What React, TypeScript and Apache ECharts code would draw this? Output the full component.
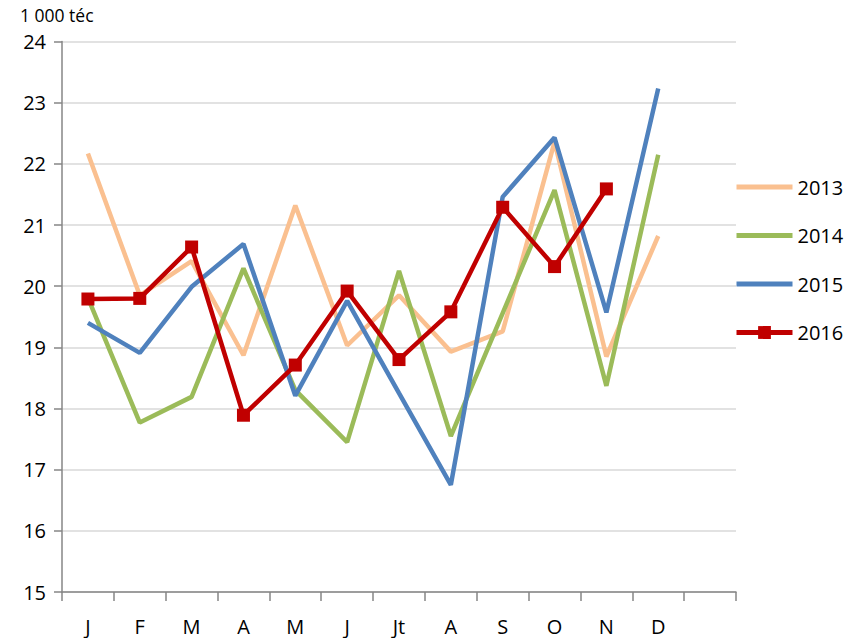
import React, { useEffect, useRef } from "react";
import * as echarts from "echarts";

const months = ["J", "F", "M", "A", "M", "J", "Jt", "A", "S", "O", "N", "D", ""];
const yTicks = [15, 16, 17, 18, 19, 20, 21, 22, 23, 24];
const unitLabel = "1 000 téc";

const s2013 = [22.17, 19.85, 20.41, 18.87, 21.32, 19.03, 19.85, 18.93, 19.26, 22.36, 18.85, 20.82];
const s2014 = [19.81, 17.77, 18.19, 20.29, 18.3, 17.45, 20.25, 17.55, 19.56, 21.57, 18.37, 22.15];
const s2015 = [19.4, 18.91, 19.99, 20.69, 18.21, 19.76, 18.25, 16.75, 21.46, 22.43, 19.57, 23.23];
const s2016 = [19.79, 19.8, 20.64, 17.89, 18.71, 19.92, 18.8, 19.58, 21.29, 20.32, 21.59];

const font = "'Open Sans', 'Liberation Sans', sans-serif";

export default function App() {
  const ref = useRef<HTMLDivElement>(null);
  useEffect(() => {
    const chart = echarts.init(ref.current!, null, { renderer: "svg" });
    chart.setOption({
      animation: false,
      textStyle: { fontFamily: font },
      grid: { left: 62, right: 113, top: 41.5, bottom: 46, containLabel: false },
      graphic: [
        {
          type: "text",
          left: 20,
          top: 6,
          style: { text: unitLabel, fontSize: 17.5, fill: "#000", fontFamily: font },
        },
      ],
      legend: {
        orient: "vertical",
        left: 729,
        top: 172,
        itemWidth: 56,
        itemHeight: 16,
        itemGap: 28.5,
        lineStyle: { width: 5 },
        textStyle: { fontSize: 20, color: "#000", fontFamily: font },
        data: [
          { name: "2013", itemStyle: { opacity: 0 } },
          { name: "2014", itemStyle: { opacity: 0 } },
          { name: "2015", itemStyle: { opacity: 0 } },
          { name: "2016" },
        ],
      },
      xAxis: {
        type: "category",
        data: months,
        boundaryGap: true,
        axisLine: { lineStyle: { color: "#868686", width: 1.5 } },
        axisTick: { show: true, interval: 0, length: 9, lineStyle: { color: "#868686", width: 1.5 } },
        axisLabel: { interval: 0, fontSize: 20, color: "#000", margin: 24, fontFamily: font },
      },
      yAxis: {
        type: "value",
        min: 15,
        max: 24,
        interval: 1,
        axisLine: { show: true, lineStyle: { color: "#868686", width: 1.5 } },
        axisTick: { show: true, length: 8, lineStyle: { color: "#868686", width: 1.5 } },
        axisLabel: {
          fontSize: 20,
          color: "#000",
          margin: 16,
          fontFamily: font,
          formatter: (v: number) => (yTicks.includes(v) ? String(v) : ""),
        },
        splitLine: { lineStyle: { color: "#d9d9d9", width: 1.5 } },
      },
      series: [
        { name: "2013", type: "line", data: s2013, symbol: "none", lineStyle: { color: "#FAC090", width: 4.5 }, itemStyle: { color: "#FAC090" } },
        { name: "2014", type: "line", data: s2014, symbol: "none", lineStyle: { color: "#9BBB59", width: 4.5 }, itemStyle: { color: "#9BBB59" } },
        { name: "2015", type: "line", data: s2015, symbol: "none", lineStyle: { color: "#4F81BD", width: 4.5 }, itemStyle: { color: "#4F81BD" } },
        { name: "2016", type: "line", data: s2016, symbol: "rect", symbolSize: 13, lineStyle: { color: "#C00000", width: 4.5 }, itemStyle: { color: "#C00000" } },
      ],
    });
    return () => chart.dispose();
  }, []);
  return <div ref={ref} style={{ width: 849, height: 638, position: "absolute", left: 0, top: 0 }} />;
}
